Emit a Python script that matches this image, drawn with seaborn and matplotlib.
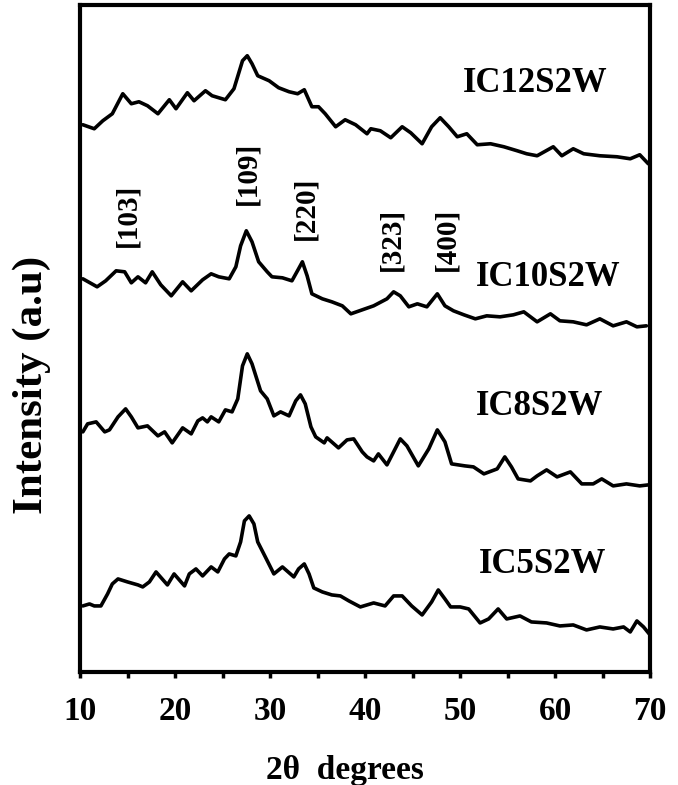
import matplotlib
matplotlib.use("Agg")
import matplotlib.pyplot as plt
import seaborn as sns
import pandas as pd

# ---- data (2theta in degrees, intensity in arbitrary units, already offset) ----
tt_12 = [10.3, 11.5, 12.4, 13.4, 14.5, 15.4, 16.2, 17.1, 18.2, 19.4, 20.1, 21.3, 22.0, 23.2, 23.9,
         25.3, 26.2, 27.1, 27.6, 28.1, 28.7, 29.9, 30.9, 32.0, 32.9, 33.6, 34.4, 35.1, 35.8, 36.9,
         37.9, 39.0, 40.2, 40.6, 41.6, 42.7, 43.9, 44.8, 46.0, 47.0, 47.9, 48.8, 49.7, 50.7, 51.8,
         53.2, 54.6, 56.0, 57.0, 58.1, 59.8, 60.7, 61.9, 63.0, 64.7, 66.5, 67.9, 68.9, 69.8]
int_12 = [547, 543, 551, 558, 578, 568, 570, 566, 558, 572, 563, 579, 571, 581, 576,
          572, 583, 611, 616, 608, 596, 591, 584, 580, 578, 582, 565, 565, 558, 545,
          552, 547, 538, 543, 541, 534, 545, 539, 528, 545, 554, 545, 535, 538, 527,
          528, 525, 521, 518, 516, 525, 516, 523, 518, 516, 515, 513, 517, 508]

tt_10 = [10.3, 11.8, 12.7, 13.8, 14.7, 15.4, 16.1, 16.9, 17.6, 18.5, 19.6, 20.8, 21.7, 22.9, 23.8,
         24.6, 25.7, 26.4, 26.9, 27.5, 28.1, 28.8, 29.7, 30.2, 31.3, 32.3, 33.0, 33.4, 33.9, 34.4,
         35.5, 36.5, 37.6, 38.5, 39.7, 40.9, 42.3, 43.0, 43.7, 44.6, 45.5, 46.5, 47.6, 48.4, 49.3,
         50.4, 51.6, 52.8, 54.2, 55.6, 56.7, 58.1, 59.5, 60.5, 61.9, 63.3, 64.7, 66.1, 67.5, 68.6, 69.6]
int_10 = [393, 385, 391, 401, 400, 389, 395, 389, 400, 387, 376, 390, 381, 392, 398,
          395, 393, 405, 426, 441, 430, 410, 400, 395, 394, 391, 403, 410, 396, 378,
          373, 370, 366, 358, 362, 366, 373, 380, 376, 365, 368, 365, 378, 366, 361,
          357, 353, 356, 355, 357, 360, 350, 358, 351, 350, 347, 353, 346, 350, 345, 346]

tt_8 = [10.3, 10.8, 11.7, 12.6, 13.1, 14.0, 14.8, 15.4, 16.1, 17.1, 18.2, 18.9, 19.7, 20.8, 21.7,
        22.4, 22.9, 23.4, 23.8, 24.6, 25.3, 26.0, 26.6, 27.1, 27.6, 28.1, 29.0, 29.7, 30.4, 31.1,
        32.0, 32.7, 33.2, 33.7, 34.3, 34.8, 35.7, 36.0, 37.2, 38.1, 38.8, 39.7, 40.2, 40.9, 41.4,
        42.3, 43.7, 44.4, 45.6, 46.7, 47.6, 48.4, 49.1, 50.5, 51.4, 52.5, 53.9, 54.7, 55.4, 56.1,
        57.4, 58.1, 59.1, 60.2, 61.6, 62.8, 64.0, 64.9, 66.1, 67.5, 68.9, 69.8]
int_8 = [240, 248, 250, 240, 242, 255, 263, 255, 244, 246, 236, 240, 229, 244, 238,
         251, 254, 250, 255, 250, 262, 260, 273, 306, 318, 308, 281, 273, 256, 260,
         256, 271, 277, 268, 245, 235, 229, 234, 224, 232, 233, 220, 215, 211, 218,
         207, 233, 226, 206, 223, 242, 230, 208, 206, 205, 198, 203, 215, 205, 193,
         191, 196, 202, 195, 200, 188, 188, 193, 186, 188, 186, 187]

tt_5 = [10.3, 11.0, 11.5, 12.2, 12.9, 13.4, 14.0, 15.0, 16.1, 16.6, 17.3, 18.0, 19.2, 19.9, 21.0,
        21.5, 22.2, 22.9, 23.8, 24.5, 25.2, 25.7, 26.4, 26.9, 27.3, 27.8, 28.3, 28.7, 29.5, 30.4,
        31.3, 32.5, 33.0, 33.6, 34.1, 34.6, 35.5, 36.5, 37.4, 38.3, 39.5, 40.9, 42.1, 43.0, 43.9,
        44.9, 46.0, 47.0, 47.7, 48.4, 49.0, 50.0, 50.9, 52.1, 53.0, 54.0, 54.9, 56.3, 57.5, 59.1,
        60.5, 61.9, 63.3, 64.7, 66.1, 67.2, 67.9, 68.6, 69.3, 69.9]
int_5 = [66, 68, 66, 66, 78, 88, 93, 90, 87, 85, 90, 100, 87, 98, 86,
         98, 103, 96, 105, 100, 113, 118, 116, 130, 151, 156, 148, 130, 115, 98,
         105, 95, 103, 108, 98, 84, 80, 77, 76, 71, 65, 69, 66, 76, 76,
         66, 57, 70, 82, 73, 65, 65, 63, 49, 53, 63, 53, 56, 50, 49,
         46, 47, 42, 45, 43, 45, 40, 51, 45, 38]

sample_names = ["IC12S2W", "IC10S2W", "IC8S2W", "IC5S2W"]
name_x = [57.9, 59.3, 58.4, 58.7]
name_y = [588, 394, 265, 107]

hkl_labels = ["[103]", "[109]", "[220]", "[323]", "[400]"]
hkl_x = [15.0, 27.7, 33.8, 42.8, 48.6]
hkl_y = [456, 498, 463, 432, 432]

x_ticks = [10, 20, 30, 40, 50, 60, 70]

# ---- plotting ----
sns.set_style("ticks")
plt.rcParams['font.family'] = ['Liberation Serif', 'DejaVu Serif']
plt.rcParams['font.weight'] = 'bold'
plt.rcParams['text.color'] = 'black'
plt.rcParams['axes.labelcolor'] = 'black'
plt.rcParams['xtick.color'] = 'black'
plt.rcParams['ytick.color'] = 'black'

fig = plt.figure(figsize=(6.78, 7.85), dpi=100)
ax = fig.add_axes([0.118, 0.144, 0.841, 0.850])

curves = [(tt_12, int_12), (tt_10, int_10), (tt_8, int_8), (tt_5, int_5)]
for name, (xs, ys) in zip(sample_names, curves):
    df = pd.DataFrame({"tt": xs, "I": ys})
    sns.lineplot(data=df, x="tt", y="I", ax=ax, color="black", linewidth=2.6,
                 estimator=None, sort=False, legend=False)

for name, xx, yy in zip(sample_names, name_x, name_y):
    ax.text(xx, yy, name, ha="center", va="center", fontsize=25, fontweight="bold", color="black")

for lab, xx, yy in zip(hkl_labels, hkl_x, hkl_y):
    ax.text(xx, yy, lab, ha="center", va="center", rotation=90, fontsize=21,
            fontweight="bold", color="black")

ax.set_xlim(10, 70)
ax.set_ylim(0, 667)
ax.set_xticks(x_ticks)
ax.set_xticks(range(15, 70, 10), minor=True)
ax.set_xticklabels([str(t) for t in x_ticks], fontsize=24, fontweight="bold", color="black")
ax.set_yticks([])
ax.tick_params(axis="x", which="both", direction="out", length=4, width=2.5, pad=13,
               colors="black")
ax.set_xlabel("2θ  degrees", fontsize=24, fontweight="bold", color="black")
ax.set_ylabel("Intensity (a.u)", fontsize=31, fontweight="bold", color="black")
ax.xaxis.set_label_coords(0.465, -0.125)
ax.yaxis.set_label_coords(-0.05, 0.43)

for sp in ax.spines.values():
    sp.set_linewidth(3)
    sp.set_color("black")

fig.savefig("out.png", dpi=100, facecolor="white")
